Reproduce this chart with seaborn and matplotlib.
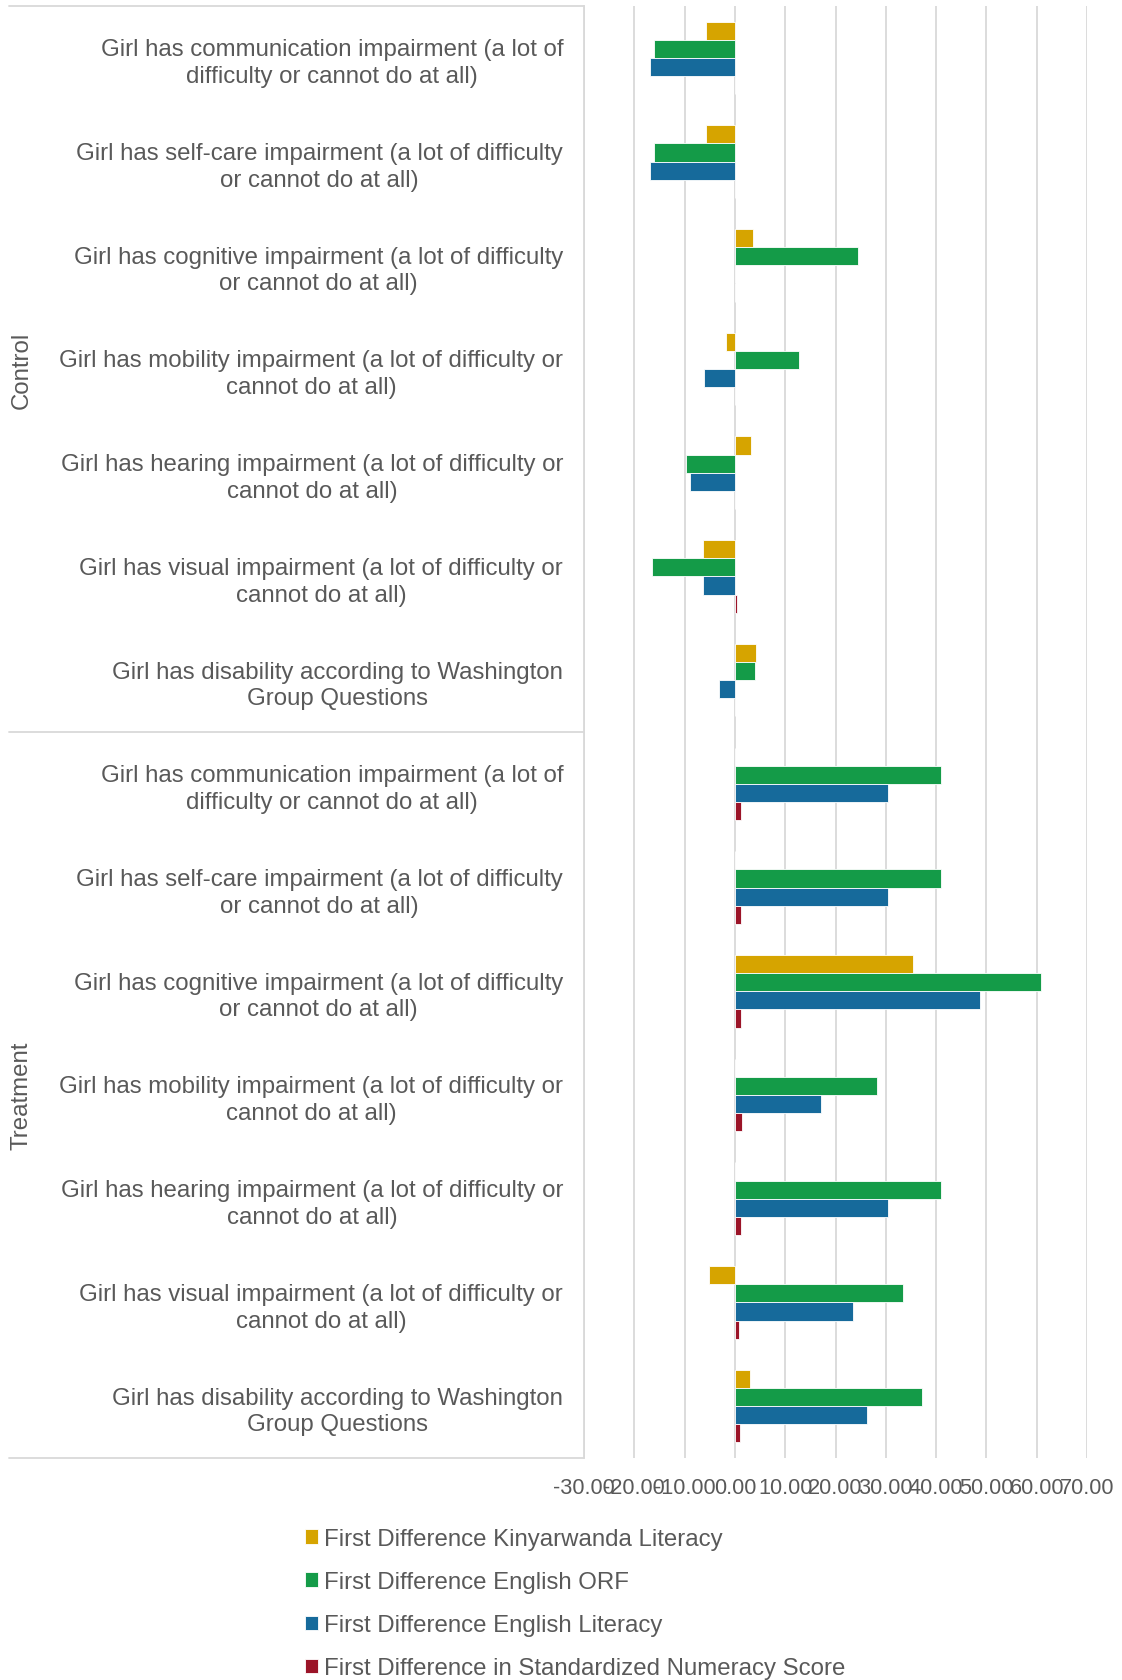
import matplotlib
matplotlib.use("Agg")
import matplotlib.pyplot as plt
import seaborn as sns
import pandas as pd
import numpy as np

# ---- data -------------------------------------------------------------
groups = ["Control", "Treatment"]

categories = [
    "Girl has communication impairment (a lot of\ndifficulty or cannot do at all)",
    "Girl has self-care impairment (a lot of difficulty\nor cannot do at all)",
    "Girl has cognitive impairment (a lot of difficulty\nor cannot do at all)",
    "Girl has mobility impairment (a lot of difficulty or\ncannot do at all)",
    "Girl has hearing impairment (a lot of difficulty or\ncannot do at all)",
    "Girl has visual impairment (a lot of difficulty or\ncannot do at all)",
    "Girl has disability according to Washington\nGroup Questions",
]

series = [
    "First Difference Kinyarwanda Literacy",
    "First Difference English ORF",
    "First Difference English Literacy",
    "First Difference in Standardized Numeracy Score",
]

control_kinyarwanda = [-5.8, -5.8, 3.5, -1.7, 3.2, -6.3, 4.2]
control_english_orf = [-16.0, -16.0, 24.4, 12.8, -9.7, -16.4, 4.0]
control_english_literacy = [-16.8, -16.8, 0.0, -6.2, -9.0, -6.4, -3.1]
control_numeracy = [0.05, 0.05, 0.0, 0.0, 0.05, 0.4, 0.05]

treatment_kinyarwanda = [0.0, 0.0, 35.5, 0.0, 0.0, -5.1, 3.0]
treatment_english_orf = [41.0, 41.0, 60.8, 28.3, 41.0, 33.4, 37.2]
treatment_english_literacy = [30.5, 30.5, 48.7, 17.2, 30.5, 23.5, 26.2]
treatment_numeracy = [1.3, 1.2, 1.2, 1.45, 1.2, 0.85, 1.0]

x_ticks = [-30, -20, -10, 0, 10, 20, 30, 40, 50, 60, 70]
x_tick_labels = [f"{t:.2f}" for t in x_ticks]

colors = ["#D6A400", "#149B48", "#166A9B", "#9B1428"]

# ---- long-form table ----------------------------------------------------
values = {
    "Control": [control_kinyarwanda, control_english_orf,
                control_english_literacy, control_numeracy],
    "Treatment": [treatment_kinyarwanda, treatment_english_orf,
                  treatment_english_literacy, treatment_numeracy],
}
rows = []
keys = []
for g in groups:
    for i, cat in enumerate(categories):
        key = f"{g}|{i}"
        keys.append(key)
        for s, vals in zip(series, values[g]):
            rows.append({"key": key, "series": s, "value": vals[i]})
df = pd.DataFrame(rows)

# ---- styling ---------------------------------------------------------------
sns.set_style("white")
plt.rcParams["font.family"] = ["Liberation Sans", "DejaVu Sans"]
text_color = "#595959"
line_color = "#D9D9D9"
fs_tick = 15.7
fs = 17.3

W, H = 1122, 1681
fig = plt.figure(figsize=(W / 100, H / 100), dpi=100)
left_px, right_px, top_px, bottom_px = 584, 1087, 7, 1459
ax = fig.add_axes([left_px / W, 1 - bottom_px / H,
                   (right_px - left_px) / W, (bottom_px - top_px) / H])

sns.barplot(data=df, x="value", y="key", hue="series", orient="h",
            order=keys, hue_order=series, palette=colors, saturation=1,
            width=0.7, edgecolor="white", linewidth=0.6, errorbar=None,
            ax=ax)

handles, labels = ax.get_legend_handles_labels()
ax.get_legend().remove()

ax.set_xlim(-30, 70)
ax.set_ylim(len(keys) - 0.5, -0.5)
ax.set_xticks(x_ticks)
ax.set_xticklabels(x_tick_labels)
ax.set_yticks(range(len(keys)))
ax.set_yticklabels(categories * len(groups))
for t in ax.get_yticklabels():
    t.set_multialignment("center")
    t.set_linespacing(1.27)
ax.set_xlabel("")
ax.set_ylabel("")

ax.tick_params(axis="both", length=0, colors=text_color)
ax.tick_params(axis="x", labelsize=fs_tick, pad=13.5)
ax.tick_params(axis="y", labelsize=fs, pad=15)

ax.xaxis.grid(True, color=line_color, linewidth=1.3)
ax.yaxis.grid(False)
ax.set_axisbelow(True)
for side in ["top", "right", "bottom"]:
    ax.spines[side].set_visible(False)
ax.spines["left"].set_color(line_color)
ax.spines["left"].set_linewidth(1.3)

# group separators and group names on the category axis
ytrans = ax.get_yaxis_transform()
x_start = -(left_px - 8.6) / (right_px - left_px)
n = len(categories)
for yb in [-0.5, n - 0.5, 2 * n - 0.5]:
    ax.plot([x_start, 0], [yb, yb], color=line_color, linewidth=1.3,
            transform=ytrans, clip_on=False)
x_group = -(left_px - 22) / (right_px - left_px)
for gi, g in enumerate(groups):
    ax.text(x_group, gi * n + (n - 1) / 2, g, rotation=90, ha="center",
            va="center", fontsize=fs, color=text_color, transform=ytrans)

fig.legend(handles, labels, loc="upper left",
           bbox_to_anchor=(305 / W, 1 - 1529 / H), frameon=False,
           fontsize=fs, labelcolor=text_color, handlelength=0.55,
           handleheight=0.55, handletextpad=0.25, labelspacing=0.88,
           borderpad=0, borderaxespad=0)

fig.savefig("out.png", dpi=100)
